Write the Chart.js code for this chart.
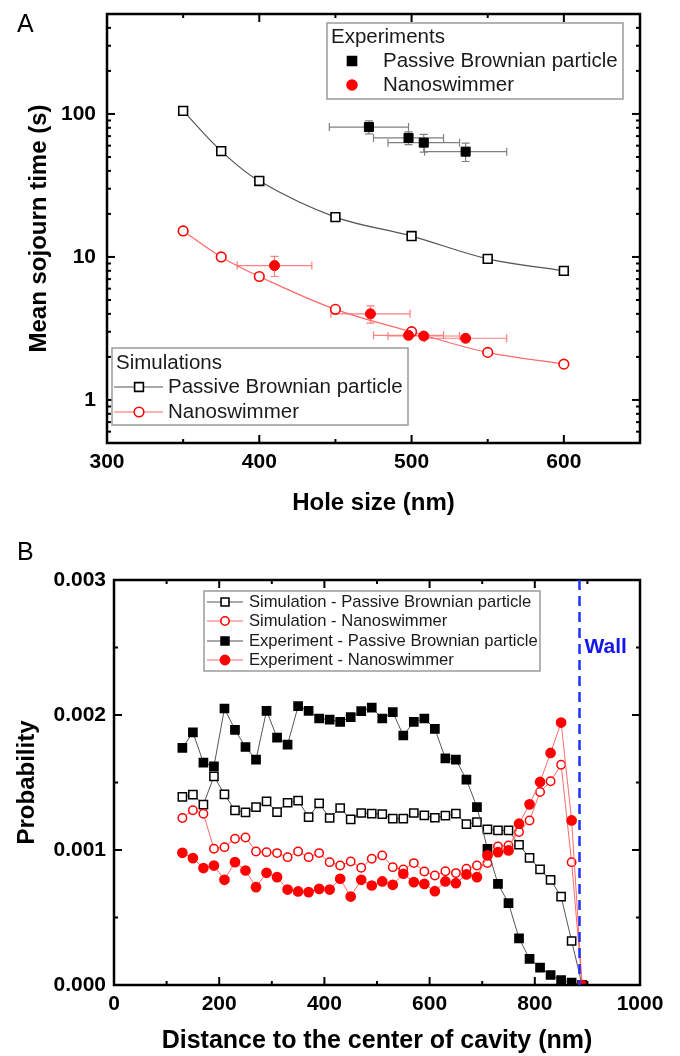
<!DOCTYPE html>
<html>
<head>
<meta charset="utf-8">
<script src="https://cdn.jsdelivr.net/npm/chart.js@4.4.1/dist/chart.umd.min.js"></script>
<style>
  html, body { margin: 0; padding: 0; background: #fff; }
  .wrap { position: absolute; left: 0; width: 680px; }
  #wrapA { top: 0; height: 530px; }
  #wrapB { top: 530px; height: 526px; }
  .panel { position: absolute; left: 17px; font: 25px 'Liberation Sans', Arial, sans-serif; color: #000; }
</style>
</head>
<body>
<div class="wrap" id="wrapA"><canvas id="chartA" width="680" height="530"></canvas></div>
<div class="wrap" id="wrapB"><canvas id="chartB" width="680" height="526"></canvas></div>
<div class="panel" style="top:9px">A</div>
<div class="panel" style="top:537px">B</div>
<script>
// ---- Panel A : mean sojourn time vs hole size ----
var holeSim = [350, 375, 400, 450, 500, 550, 600];
var simPassiveA = [105, 55, 34, 19, 14, 9.7, 8.0];
var simNanoA = [15.2, 10, 7.3, 4.3, 3.0, 2.15, 1.78];

var holeExpPassive = [472, 498, 508, 535.5];
var expPassiveA = [81, 68, 63, 54.5];
var expPassiveXErr = [26, 23, 23.5, 27];
var expPassiveYErr = [8.5, 7, 9, 8];

var holeExpNano = [410, 473, 498, 508, 535.5];
var expNanoA = [8.7, 4.0, 2.83, 2.8, 2.7];
var expNanoXErr = [24.5, 26, 23, 23.5, 27];
var expNanoYErr = [1.4, 0.55, 0.15, 0.15, 0.15];

var xTicksA = [300, 400, 500, 600];
var yTicksA = [1, 10, 100];

// ---- Panel B : radial probability ----
var distB = [130, 150, 170, 190, 210, 230, 250, 270, 290, 310, 330, 350, 370, 390, 410, 430, 450, 470, 490, 510,
             530, 550, 570, 590, 610, 630, 650, 670, 690, 710, 730, 750, 770, 790, 810, 830, 850, 870, 890];
var simPassiveB = [0.001393, 0.001410, 0.001336, 0.001546, 0.001412, 0.001294, 0.001279, 0.001318, 0.001360, 0.001281,
                   0.001350, 0.001365, 0.001244, 0.001346, 0.001237, 0.001311, 0.001227, 0.001274, 0.001269, 0.001266,
                   0.001232, 0.001232, 0.001274, 0.001256, 0.001239, 0.001254, 0.001269, 0.001192, 0.001207, 0.001153,
                   0.001145, 0.001145, 0.001039, 0.000942, 0.000856, 0.000779, 0.000655, 0.000326, 0];
var simNanoB = [0.001237, 0.001294, 0.001269, 0.001009, 0.001021, 0.001083, 0.001093, 0.000989, 0.000984, 0.000977,
                0.000947, 0.000989, 0.000947, 0.000977, 0.000910, 0.000885, 0.000915, 0.000868, 0.000935, 0.000960,
                0.000873, 0.000856, 0.000903, 0.000841, 0.000811, 0.000843, 0.000829, 0.000861, 0.000885, 0.000903,
                0.001026, 0.001034, 0.001133, 0.001219, 0.001430, 0.001509, 0.001632, 0.000910, 0];
var expPassiveB = [0.001756, 0.001872, 0.001647, 0.001620, 0.002048, 0.001890, 0.001763, 0.001670, 0.002031, 0.001833,
                   0.001781, 0.002065, 0.002031, 0.001974, 0.001966, 0.001949, 0.001984, 0.002028, 0.002055, 0.001974,
                   0.002021, 0.001848, 0.001949, 0.001974, 0.001897, 0.001679, 0.001670, 0.001521, 0.001318, 0.001009,
                   0.000749, 0.000606, 0.000346, 0.000193, 0.000129, 0.000074, 0.000037, 0.000017, 0];
var expNanoB = [0.000979, 0.000940, 0.000866, 0.000885, 0.000779, 0.000910, 0.000848, 0.000725, 0.000831, 0.000799,
                0.000707, 0.000693, 0.000688, 0.000712, 0.000707, 0.000787, 0.000655, 0.000779, 0.000737, 0.000767,
                0.000742, 0.000824, 0.000762, 0.000749, 0.000695, 0.000767, 0.000754, 0.000819, 0.000799, 0.000960,
                0.000984, 0.000997, 0.001195, 0.001338, 0.001504, 0.001719, 0.001944, 0.001219, 0];
var wallX = 885;

var xTicksB = [0, 200, 400, 600, 800, 1000];
var yTicksB = [0, 0.001, 0.002, 0.003];

var FONT = "'Liberation Sans', Arial, sans-serif";
var BLACK_LINE = '#555555';
var RED = '#ff0000';
var RED_LINE = '#ff6a6a';

function pts(xs, ys) {
    return xs.map(function(x, i) { return { x: x, y: ys[i] }; });
}

function drawMarker(ctx, style, x, y, r, fill, stroke) {
    ctx.save();
    ctx.lineWidth = 1.6;
    ctx.strokeStyle = stroke;
    ctx.fillStyle = fill;
    ctx.beginPath();
    if (style === 'rect') {
        var s = r * Math.SQRT1_2;
        ctx.rect(x - s, y - s, 2 * s, 2 * s);
    } else {
        ctx.arc(x, y, r, 0, Math.PI * 2);
    }
    ctx.fill();
    ctx.stroke();
    ctx.restore();
}

function drawLegend(ctx, box, title, rows, fontSize) {
    ctx.save();
    ctx.fillStyle = '#fff';
    ctx.fillRect(box.x, box.y, box.w, box.h);
    ctx.strokeStyle = '#9a9a9a';
    ctx.lineWidth = 1.5;
    ctx.strokeRect(box.x, box.y, box.w, box.h);
    ctx.font = fontSize + 'px ' + FONT;
    ctx.fillStyle = '#1a1a1a';
    ctx.textBaseline = 'middle';
    if (title) ctx.fillText(title.text, title.x, title.y);
    rows.forEach(function(r) {
        if (r.line) {
            ctx.strokeStyle = r.line;
            ctx.lineWidth = 1.2;
            ctx.beginPath();
            ctx.moveTo(r.lineFrom, r.y);
            ctx.lineTo(r.lineTo, r.y);
            ctx.stroke();
        }
        drawMarker(ctx, r.style, r.mx, r.y, r.size, r.fill, r.stroke);
        ctx.fillStyle = '#1a1a1a';
        ctx.fillText(r.text, r.tx, r.y);
    });
    ctx.restore();
}

// frame with inward ticks on all four sides (Origin style)
function framePlugin(xMajor, xMinor, yMajor, yMinor) {
    return {
        id: 'frame',
        afterDatasetsDraw: function(chart) {
            var ctx = chart.ctx, a = chart.chartArea;
            var xs = chart.scales.x, ys = chart.scales.y;
            ctx.save();
            ctx.strokeStyle = '#000';
            function seg(x1, y1, x2, y2, w) {
                ctx.lineWidth = w;
                ctx.beginPath();
                ctx.moveTo(x1, y1);
                ctx.lineTo(x2, y2);
                ctx.stroke();
            }
            xMajor.forEach(function(v) {
                var p = xs.getPixelForValue(v);
                seg(p, a.bottom, p, a.bottom - 8, 2);
                seg(p, a.top, p, a.top + 8, 2);
            });
            xMinor.forEach(function(v) {
                var p = xs.getPixelForValue(v);
                seg(p, a.bottom, p, a.bottom - 4, 2);
                seg(p, a.top, p, a.top + 4, 2);
            });
            yMajor.forEach(function(v) {
                var p = ys.getPixelForValue(v);
                seg(a.left, p, a.left + 8, p, 2);
                seg(a.right, p, a.right - 8, p, 2);
            });
            yMinor.forEach(function(v) {
                var p = ys.getPixelForValue(v);
                seg(a.left, p, a.left + 4, p, 2);
                seg(a.right, p, a.right - 4, p, 2);
            });
            ctx.lineWidth = 2.5;
            ctx.strokeRect(a.left, a.top, a.right - a.left, a.bottom - a.top);
            ctx.restore();
        }
    };
}

function tickFont(size) {
    return { family: FONT, size: size, weight: 'bold' };
}

// fixed axis box, no extra label overhang padding
function fixWidth(w) {
    return function(s) { s.width = w; s.paddingTop = 0; s.paddingBottom = 0; };
}
function fixHeight(h) {
    return function(s) { s.height = h; s.paddingLeft = 0; s.paddingRight = 0; };
}

// ---------------- Chart A ----------------
var yMinorA = [];
[0.1, 1, 10, 100].forEach(function(d) {
    for (var m = 2; m <= 9; m++) {
        var v = m * d;
        if (v >= 0.5 && v <= 500) yMinorA.push(v);
    }
});

var errorBarsA = {
    id: 'errorBarsA',
    beforeDatasetsDraw: function(chart) {
        var ctx = chart.ctx, xs = chart.scales.x, ys = chart.scales.y;
        function bars(hx, vals, xe, ye, color) {
            ctx.save();
            ctx.strokeStyle = color;
            ctx.lineWidth = 1.2;
            hx.forEach(function(h, i) {
                var px = xs.getPixelForValue(h), py = ys.getPixelForValue(vals[i]);
                var x1 = xs.getPixelForValue(h - xe[i]), x2 = xs.getPixelForValue(h + xe[i]);
                var y1 = ys.getPixelForValue(vals[i] - ye[i]), y2 = ys.getPixelForValue(vals[i] + ye[i]);
                ctx.beginPath();
                ctx.moveTo(x1, py); ctx.lineTo(x2, py);
                ctx.moveTo(x1, py - 4); ctx.lineTo(x1, py + 4);
                ctx.moveTo(x2, py - 4); ctx.lineTo(x2, py + 4);
                ctx.moveTo(px, y1); ctx.lineTo(px, y2);
                ctx.moveTo(px - 4, y1); ctx.lineTo(px + 4, y1);
                ctx.moveTo(px - 4, y2); ctx.lineTo(px + 4, y2);
                ctx.stroke();
            });
            ctx.restore();
        }
        bars(holeExpPassive, expPassiveA, expPassiveXErr, expPassiveYErr, '#808080');
        bars(holeExpNano, expNanoA, expNanoXErr, expNanoYErr, '#ff7f7f');
    }
};

var legendA = {
    id: 'legendA',
    afterDraw: function(chart) {
        var ctx = chart.ctx;
        drawLegend(ctx, { x: 327, y: 23, w: 296, h: 76 },
            { text: 'Experiments', x: 331, y: 37 },
            [
                { style: 'rect', mx: 352, y: 61, size: 6.4, fill: '#000', stroke: '#000', text: 'Passive Brownian particle', tx: 383 },
                { style: 'circle', mx: 352, y: 85, size: 5, fill: RED, stroke: RED, text: 'Nanoswimmer', tx: 383 }
            ], 20.5);
        drawLegend(ctx, { x: 112, y: 348, w: 296, h: 77 },
            { text: 'Simulations', x: 116, y: 363 },
            [
                { style: 'rect', mx: 139, y: 387, size: 6.2, fill: '#fff', stroke: '#000', line: BLACK_LINE, lineFrom: 114, lineTo: 163, text: 'Passive Brownian particle', tx: 168 },
                { style: 'circle', mx: 139, y: 412, size: 4.8, fill: '#fff', stroke: RED, line: RED_LINE, lineFrom: 114, lineTo: 163, text: 'Nanoswimmer', tx: 168 }
            ], 20.5);
    }
};

new Chart(document.getElementById('chartA'), {
    type: 'scatter',
    data: {
        datasets: [
            {
                label: 'Experiments - Passive Brownian particle',
                data: pts(holeExpPassive, expPassiveA),
                showLine: false,
                pointStyle: 'rect',
                pointRadius: 6.4,
                pointBackgroundColor: '#000',
                pointBorderColor: '#000',
                pointBorderWidth: 1
            },
            {
                label: 'Experiments - Nanoswimmer',
                data: pts(holeExpNano, expNanoA),
                showLine: false,
                pointStyle: 'circle',
                pointRadius: 5,
                pointBackgroundColor: RED,
                pointBorderColor: RED,
                pointBorderWidth: 1
            },
            {
                label: 'Simulations - Passive Brownian particle',
                data: pts(holeSim, simPassiveA),
                showLine: true,
                borderColor: BLACK_LINE,
                borderWidth: 1.2,
                tension: 0.35,
                pointStyle: 'rect',
                pointRadius: 6.2,
                pointBackgroundColor: '#fff',
                pointBorderColor: '#000',
                pointBorderWidth: 1.6
            },
            {
                label: 'Simulations - Nanoswimmer',
                data: pts(holeSim, simNanoA),
                showLine: true,
                borderColor: RED_LINE,
                borderWidth: 1.2,
                tension: 0.35,
                pointStyle: 'circle',
                pointRadius: 4.8,
                pointBackgroundColor: '#fff',
                pointBorderColor: RED,
                pointBorderWidth: 1.6
            }
        ]
    },
    options: {
        responsive: false,
        animation: false,
        devicePixelRatio: 1,
        layout: { padding: { left: 0, right: 40, top: 14, bottom: 0 } },
        plugins: {
            legend: { display: false },
            tooltip: { enabled: false }
        },
        scales: {
            x: {
                type: 'linear',
                min: 300,
                max: 650,
                grid: { display: false, drawTicks: false },
                border: { display: false },
                ticks: { font: tickFont(21), color: '#000', padding: 7, maxRotation: 0 },
                afterBuildTicks: function(s) { s.ticks = xTicksA.map(function(v) { return { value: v }; }); },
                afterFit: fixHeight(87),
                title: {
                    display: true,
                    text: 'Hole size (nm)',
                    color: '#000',
                    font: { family: FONT, size: 24, weight: 'bold' },
                    padding: { top: 0, bottom: 12 }
                }
            },
            y: {
                type: 'logarithmic',
                min: 0.5,
                max: 500,
                grid: { display: false, drawTicks: false },
                border: { display: false },
                ticks: {
                    font: tickFont(21),
                    color: '#000',
                    padding: 11,
                    callback: function(v) { return String(v); }
                },
                afterBuildTicks: function(s) { s.ticks = yTicksA.map(function(v) { return { value: v }; }); },
                afterFit: fixWidth(107),
                title: {
                    display: true,
                    text: 'Mean sojourn time (s)',
                    color: '#000',
                    font: { family: FONT, size: 24, weight: 'bold' },
                    padding: { top: 25, bottom: 0 }
                }
            }
        }
    },
    plugins: [errorBarsA, framePlugin(xTicksA, [350, 450, 550, 650], yTicksA, yMinorA), legendA]
});

// ---------------- Chart B ----------------
var wallPlugin = {
    id: 'wall',
    afterDatasetsDraw: function(chart) {
        var ctx = chart.ctx, a = chart.chartArea;
        var px = chart.scales.x.getPixelForValue(wallX);
        ctx.save();
        ctx.strokeStyle = '#2030ff';
        ctx.lineWidth = 2.5;
        ctx.setLineDash([10, 6]);
        ctx.beginPath();
        ctx.moveTo(px, a.top);
        ctx.lineTo(px, a.bottom);
        ctx.stroke();
        ctx.setLineDash([]);
        ctx.fillStyle = '#1515ee';
        ctx.font = 'bold 21px ' + FONT;
        ctx.textBaseline = 'middle';
        ctx.fillText('Wall', px + 5, 117);
        ctx.restore();
    }
};

var legendB = {
    id: 'legendB',
    afterDraw: function(chart) {
        var ctx = chart.ctx;
        var rows = [
            { style: 'rect', size: 5.6, fill: '#fff', stroke: '#000', line: BLACK_LINE, text: 'Simulation - Passive Brownian particle', y: 72 },
            { style: 'circle', size: 4.2, fill: '#fff', stroke: RED, line: RED_LINE, text: 'Simulation - Nanoswimmer', y: 91 },
            { style: 'rect', size: 5.6, fill: '#000', stroke: '#000', line: BLACK_LINE, text: 'Experiment - Passive Brownian particle', y: 111 },
            { style: 'circle', size: 4.6, fill: RED, stroke: RED, line: RED_LINE, text: 'Experiment - Nanoswimmer', y: 130 }
        ];
        rows.forEach(function(r) { r.mx = 225; r.lineFrom = 207; r.lineTo = 243; r.tx = 249; });
        drawLegend(ctx, { x: 204, y: 61, w: 336, h: 80 }, null, rows, 16.6);
    }
};

function lineSet(label, ys, style, radius, fill, stroke, line) {
    return {
        label: label,
        data: pts(distB, ys),
        showLine: true,
        borderColor: line,
        borderWidth: 1,
        pointStyle: style,
        pointRadius: radius,
        pointBackgroundColor: fill,
        pointBorderColor: stroke,
        pointBorderWidth: 1.5
    };
}

new Chart(document.getElementById('chartB'), {
    type: 'scatter',
    data: {
        datasets: [
            lineSet('Experiment - Nanoswimmer', expNanoB, 'circle', 4.6, RED, RED, RED_LINE),
            lineSet('Experiment - Passive Brownian particle', expPassiveB, 'rect', 5.8, '#000', '#000', BLACK_LINE),
            lineSet('Simulation - Nanoswimmer', simNanoB, 'circle', 4.2, '#fff', RED, RED_LINE),
            lineSet('Simulation - Passive Brownian particle', simPassiveB, 'rect', 5.8, '#fff', '#000', BLACK_LINE)
        ]
    },
    options: {
        responsive: false,
        animation: false,
        devicePixelRatio: 1,
        layout: { padding: { left: 0, right: 40, top: 50, bottom: 0 } },
        plugins: {
            legend: { display: false },
            tooltip: { enabled: false }
        },
        scales: {
            x: {
                type: 'linear',
                min: 0,
                max: 1000,
                grid: { display: false, drawTicks: false },
                border: { display: false },
                ticks: {
                    font: tickFont(21),
                    color: '#000',
                    padding: 7,
                    maxRotation: 0,
                    callback: function(v) { return String(v); }
                },
                afterBuildTicks: function(s) { s.ticks = xTicksB.map(function(v) { return { value: v }; }); },
                afterFit: fixHeight(71),
                title: {
                    display: true,
                    text: 'Distance to the center of cavity (nm)',
                    color: '#000',
                    font: { family: FONT, size: 25, weight: 'bold' },
                    padding: { top: 0, bottom: 0 }
                }
            },
            y: {
                type: 'linear',
                min: 0,
                max: 0.003,
                grid: { display: false, drawTicks: false },
                border: { display: false },
                ticks: {
                    font: tickFont(21),
                    color: '#000',
                    padding: 8,
                    callback: function(v) { return v.toFixed(3); }
                },
                afterBuildTicks: function(s) { s.ticks = yTicksB.map(function(v) { return { value: v }; }); },
                afterFit: fixWidth(114),
                title: {
                    display: true,
                    text: 'Probability',
                    color: '#000',
                    font: { family: FONT, size: 24, weight: 'bold' },
                    padding: { top: 13, bottom: 0 }
                }
            }
        }
    },
    plugins: [framePlugin(xTicksB, [100, 300, 500, 700, 900], yTicksB, [0.0005, 0.0015, 0.0025]), wallPlugin, legendB]
});
</script>
</body>
</html>
